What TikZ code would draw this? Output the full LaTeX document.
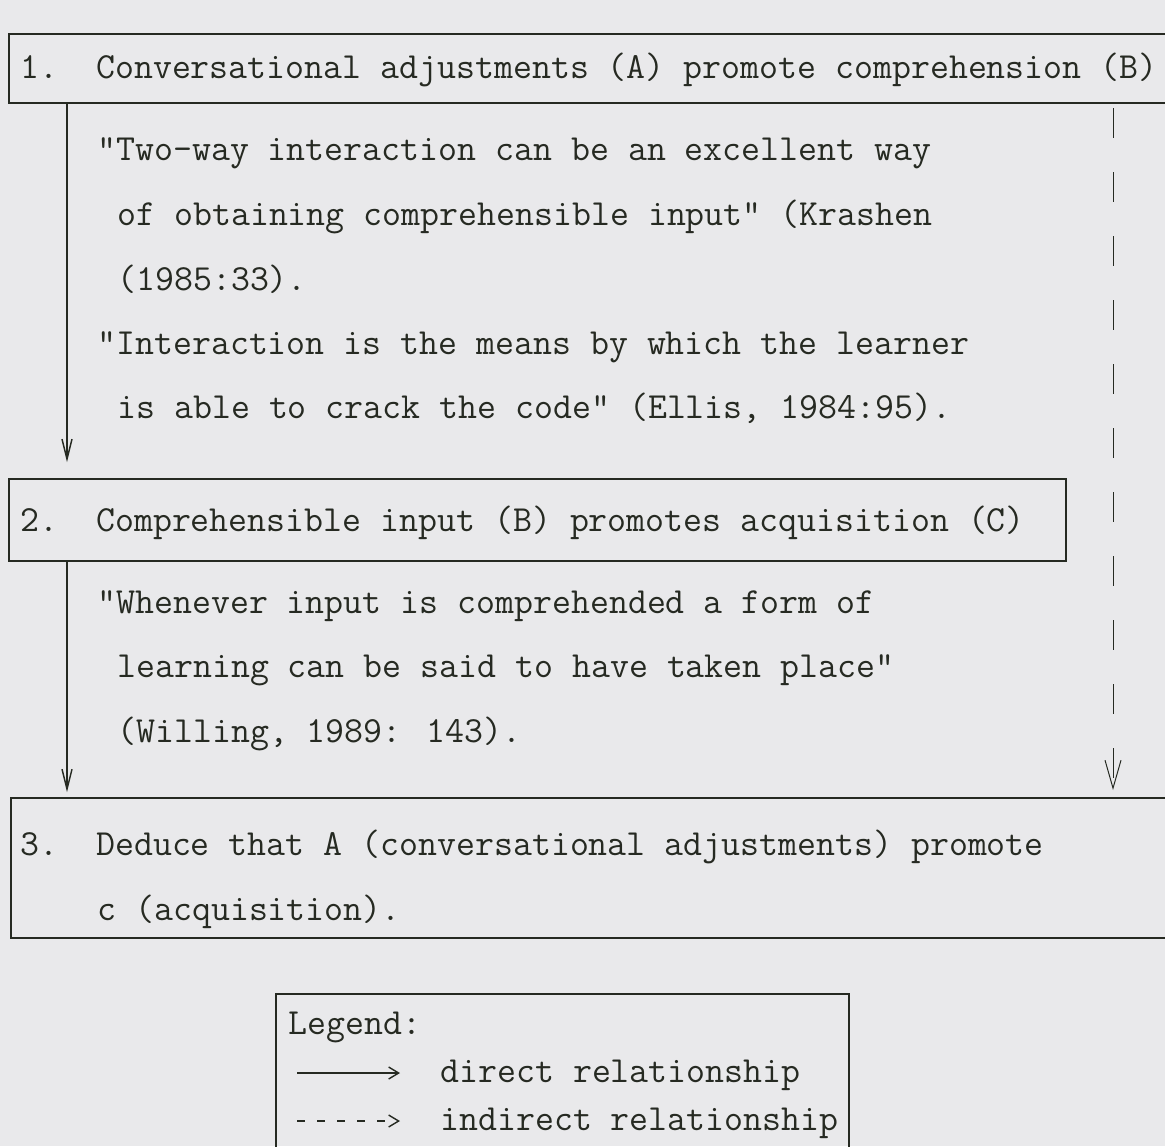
\documentclass[tikz,border=0pt]{standalone}
\usetikzlibrary{arrows.meta}
\usetikzlibrary{positioning}
\definecolor{paper}{HTML}{E9E9EB}
\definecolor{ink}{HTML}{262A22}

\begin{document}
\begin{tikzpicture}[x=0.5pt,y=-0.5pt, font=\fontsize{18.4}{20}\selectfont\ttfamily,
		box/.style={draw=ink, line width=1.2pt, anchor=north west, inner sep=0pt},
		txt/.style={anchor=base west, inner sep=0pt, text=ink},
		direct/.style={draw=ink, line width=0.7pt, -{Straight Barb[length=10pt,width=5pt]}},
		indirect/.style={draw=ink, line width=0.5pt, dash pattern=on 15pt off 17pt,
				-{Straight Barb[length=14pt,width=8pt]}}]
						\useasboundingbox (0,0) rectangle (1165,1146);
						\fill[paper] (0,0) rectangle (1165,1146);
						\clip (0,0) rectangle (1165,1146);
						% boxes
						\node[box, minimum width=586pt, minimum height=34.5pt] (step1) at (8,33) {};
						\node[box, minimum width=528.5pt, minimum height=41pt] (step2) at (8,478) {};
						\node[box, minimum width=585pt, minimum height=70pt] (step3) at (10,797) {};
						\node[box, minimum width=286.5pt, minimum height=84pt] (legend) at (275,993) {};
						% texts
						\node[txt] (t1) at (20,78) {1.\ \ Conversational adjustments (A) promote comprehension (B)};
						\node[txt] (q1a) at (97,160) {"Two-way interaction can be an excellent way};
						\node[txt] (q1b) at (117,225) {of obtaining comprehensible input" (Krashen};
						\node[txt] (q1c) at (117,290) {(1985:33).};
						\node[txt] (q2a) at (97,354) {"Interaction is the means by which the learner};
						\node[txt] (q2b) at (117,418) {is able to crack the code" (Ellis, 1984:95).};
						\node[txt] (t2) at (20,531) {2.\ \ Comprehensible input (B) promotes acquisition (C)};
						\node[txt] (q3a) at (97,613) {"Whenever input is comprehended a form of};
						\node[txt] (q3b) at (117,677) {learning can be said to have taken place"};
						\node[txt] (q3c) at (117,742) {(Willing, 1989: 143).};
						\node[txt] (t3a) at (20,855) {3.\ \ Deduce that A (conversational adjustments) promote};
						\node[txt] (t3b) at (97,920) {c (acquisition).};
						\node[txt] (lg) at (288,1034) {Legend:};
						\node[txt] (lgd) at (440,1082) {direct relationship};
						\node[txt] (lgi) at (440,1130) {indirect relationship};
						% arrows
						\coordinate (lane) at (67,0);
						\coordinate (dlane) at (1113,0);
						\draw[direct, shorten >=8pt] (step1.south -| lane) -- (step2.north -| lane);
						\draw[direct, shorten >=2.5pt] (step2.south -| lane) -- (step3.north -| lane);
						\draw[indirect, shorten <=2pt, shorten >=3.5pt] (step1.south -| dlane) -- (step3.north -| dlane);
						% legend keys
						\coordinate (kda) at (297,1073);
						\coordinate (kdb) at (400,1073);
						\coordinate (kia) at (297,1121);
						\coordinate (kib) at (400,1121);
						\draw[direct, -{Straight Barb[length=5pt,width=6pt]}] (kda) -- (kdb);
						\draw[direct, dash pattern=on 4pt off 6pt, -{Straight Barb[length=5pt,width=6pt]}] (kia) -- (kib);
				\end{tikzpicture}
\end{document}
